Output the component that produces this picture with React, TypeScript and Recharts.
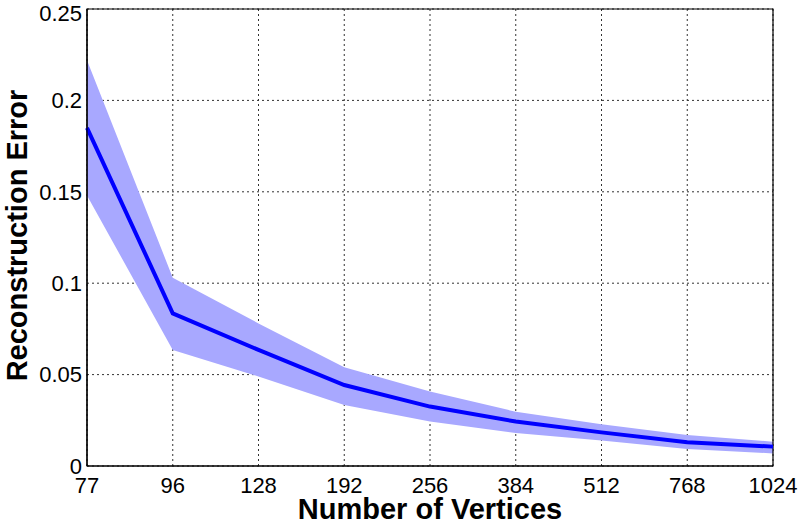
import React from 'react';
import {
  ComposedChart,
  Area,
  Line,
  XAxis,
  YAxis,
  CartesianGrid,
  ReferenceArea,
} from 'recharts';

const vertexCounts = ['77', '96', '128', '192', '256', '384', '512', '768', '1024'];
const meanError = [0.185, 0.0835, 0.0635, 0.0443, 0.0325, 0.0243, 0.0184, 0.013, 0.0106];
const upperError = [0.222, 0.103, 0.078, 0.054, 0.0407, 0.0297, 0.0228, 0.017, 0.0133];
const lowerError = [0.148, 0.0635, 0.049, 0.0334, 0.0243, 0.018, 0.0139, 0.0093, 0.0069];
const yTicks = [0, 0.05, 0.1, 0.15, 0.2, 0.25];

const data = vertexCounts.map((v, i) => ({
  vertices: v,
  mean: meanError[i],
  band: [lowerError[i], upperError[i]],
}));

const FONT = '"Liberation Sans", Arial, Helvetica, sans-serif';

const YTitle = (props: any) => {
  const { viewBox } = props;
  const cy = viewBox.y + viewBox.height / 2;
  return (
    <text
      x={0}
      y={0}
      transform={`translate(27, ${cy - 2}) rotate(-90)`}
      textAnchor="middle"
      fontFamily={FONT}
      fontWeight="bold"
      fontSize={29}
      fill="#000"
    >
      Reconstruction Error
    </text>
  );
};

const XTitle = (props: any) => {
  const { viewBox } = props;
  const cx = viewBox.x + viewBox.width / 2;
  return (
    <text
      x={cx}
      y={519}
      textAnchor="middle"
      fontFamily={FONT}
      fontWeight="bold"
      fontSize={29}
      fill="#000"
    >
      Number of Vertices
    </text>
  );
};

export default function App() {
  return (
    <div style={{ position: 'absolute', left: 0, top: 0, background: '#fff' }}>
      <ComposedChart
        width={800}
        height={522}
        data={data}
        margin={{ top: 9, right: 27, bottom: 0, left: 0 }}
      >
        <CartesianGrid stroke="#333" strokeDasharray="2 3" strokeWidth={1} />
        <XAxis
          dataKey="vertices"
          type="category"
          scale="point"
          padding={{ left: 0, right: 0 }}
          height={56}
          tickLine={false}
          tickSize={0}
          tickMargin={11}
          axisLine={{ stroke: '#000', strokeWidth: 1.2 }}
          tick={{ fontFamily: FONT, fontSize: 22, fill: '#000' }}
          interval={0}
          label={<XTitle />}
        />
        <YAxis
          type="number"
          domain={[0, 0.25]}
          ticks={yTicks}
          width={87}
          tickLine={false}
          tickSize={0}
          tickMargin={5}
          axisLine={{ stroke: '#000', strokeWidth: 1.2 }}
          tick={{ fontFamily: FONT, fontSize: 22, fill: '#000' }}
          tickFormatter={(v: number) => String(v)}
          label={<YTitle />}
        />
        <Area
          dataKey="band"
          type="linear"
          stroke="none"
          fill="#a8a8ff"
          fillOpacity={1}
          isAnimationActive={false}
          activeDot={false}
        />
        <Line
          dataKey="mean"
          type="linear"
          stroke="#0000ff"
          strokeWidth={4}
          dot={false}
          activeDot={false}
          isAnimationActive={false}
        />
        <ReferenceArea
          x1="77"
          x2="1024"
          y1={0}
          y2={0.25}
          fill="none"
          stroke="#000"
          strokeWidth={1.2}
          ifOverflow="visible"
        />
      </ComposedChart>
    </div>
  );
}
